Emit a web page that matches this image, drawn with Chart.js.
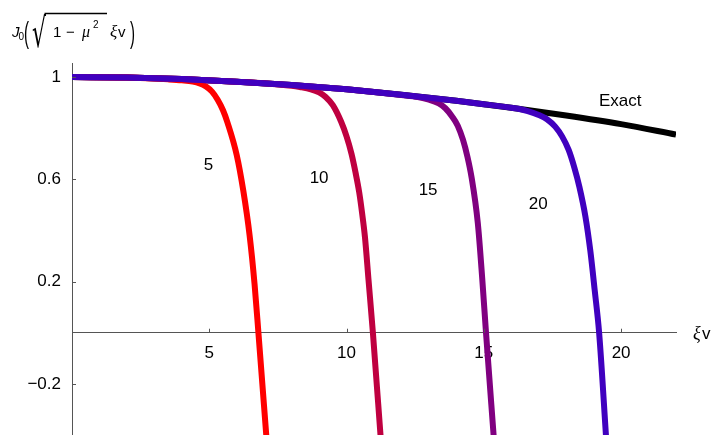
<!DOCTYPE html>
<html>
<head>
<meta charset="utf-8">
<script src="https://cdn.jsdelivr.net/npm/chart.js@4.4.1/dist/chart.umd.min.js"></script>
<style>
  html, body { margin: 0; padding: 0; background: #fff; }
  #wrap { width: 713px; height: 435px; }
</style>
</head>
<body>
<div id="wrap"><canvas id="c" width="713" height="435"></canvas></div>
<script>
// Exact Bessel curve J0(sqrt(1-mu^2) xi v)
const exactX = [0, 2, 4, 6, 8, 10, 12, 14, 16, 18, 20, 22];
const exactY = [1.000, 0.998, 0.992, 0.982, 0.969, 0.952, 0.931, 0.907, 0.880, 0.850, 0.816, 0.775];

// Truncated approximations with 5, 10, 15 and 20 terms
const n5X = [0, 1, 2, 3, 3.5, 4, 4.4, 4.65, 4.88, 5.1, 5.3, 5.5, 5.67, 6.0, 6.24, 6.47, 6.65, 6.79, 7.09];
const n5Y = [1.000, 0.9995, 0.998, 0.994, 0.991, 0.987, 0.982, 0.975, 0.963, 0.943, 0.912, 0.870, 0.820, 0.695, 0.555, 0.380, 0.190, 0.000, -0.420];

const n10X = [0, 2, 4, 6, 7, 8, 8.3, 8.7, 9.0, 9.24, 9.5, 9.8, 10.0, 10.18, 10.33, 10.46, 10.57, 10.67, 10.8, 10.96, 11.25];
const n10Y = [1.000, 0.998, 0.992, 0.982, 0.976, 0.966, 0.961, 0.952, 0.940, 0.922, 0.890, 0.826, 0.768, 0.700, 0.625, 0.550, 0.465, 0.375, 0.207, 0.000, -0.420];

const n15X = [0, 2, 4, 6, 8, 10, 11, 12, 12.6, 13.0, 13.36, 13.6, 13.85, 14.05, 14.24, 14.4, 14.55, 14.78, 14.94, 15.08, 15.37];
const n15Y = [1.000, 0.998, 0.992, 0.982, 0.969, 0.952, 0.942, 0.930, 0.922, 0.912, 0.897, 0.878, 0.845, 0.810, 0.755, 0.690, 0.610, 0.430, 0.215, 0.000, -0.420];

const n20X = [0, 2, 4, 6, 8, 10, 12, 14, 15, 16, 16.3, 16.6, 17.0, 17.3, 17.6, 17.85, 18.09, 18.3, 18.48, 18.7, 18.88, 19.04, 19.2, 19.46];
const n20Y = [1.000, 0.998, 0.992, 0.982, 0.969, 0.952, 0.931, 0.907, 0.894, 0.880, 0.875, 0.867, 0.852, 0.835, 0.806, 0.768, 0.715, 0.645, 0.571, 0.455, 0.320, 0.165, 0.000, -0.420];

// Axis ticks
const xTickValues = [5, 10, 15, 20];
const xTickLabels = ['5', '10', '15', '20'];
const yTickValues = [-0.2, 0.2, 0.6, 1];
const yTickLabels = ['\u22120.2', '0.2', '0.6', '1'];

// Curve annotations (text and data position)
const noteText = ['5', '10', '15', '20', 'Exact'];
const noteX = [4.97, 9.0, 12.97, 16.98, 19.97];
const noteY = [0.656, 0.604, 0.556, 0.504, 0.907];

const SANS = '"Liberation Sans", Arial, sans-serif';
const SERIF = '"Liberation Serif", "Times New Roman", serif';

const pts = (xs, ys) => xs.map((x, i) => ({ x: x, y: ys[i] }));

function line(label, xs, ys, color, order) {
  return {
    label: label,
    data: pts(xs, ys),
    borderColor: color,
    backgroundColor: color,
    borderWidth: 6,
    pointRadius: 0,
    fill: false,
    cubicInterpolationMode: 'monotone',
    borderCapStyle: 'butt',
    order: order
  };
}

// axes sit inside the plot, so they reserve no extra room
function noPadding(s) {
  s.paddingLeft = 0;
  s.paddingRight = 0;
  s.paddingTop = 0;
  s.paddingBottom = 0;
}

const decorations = {
  id: 'decorations',
  afterDraw(chart) {
    const ctx = chart.ctx;
    const xs = chart.scales.x, ys = chart.scales.y;
    const x0 = xs.getPixelForValue(0);
    const yZero = ys.getPixelForValue(0);
    ctx.save();
    // tick marks pointing into the plot
    ctx.strokeStyle = '#555';
    ctx.lineWidth = 1;
    ctx.beginPath();
    xTickValues.forEach(v => {
      const px = Math.round(xs.getPixelForValue(v)) + 0.5;
      ctx.moveTo(px, yZero);
      ctx.lineTo(px, yZero - 4);
    });
    yTickValues.forEach(v => {
      const py = Math.round(ys.getPixelForValue(v)) + 0.5;
      ctx.moveTo(x0, py);
      ctx.lineTo(x0 + 4, py);
    });
    ctx.stroke();

    // curve annotations
    ctx.fillStyle = '#000';
    ctx.font = '17px ' + SANS;
    ctx.textAlign = 'center';
    ctx.textBaseline = 'middle';
    noteText.forEach((t, i) => {
      ctx.fillText(t, xs.getPixelForValue(noteX[i]), ys.getPixelForValue(noteY[i]));
    });

    // x axis title
    ctx.textAlign = 'left';
    ctx.textBaseline = 'alphabetic';
    const tx = xs.right + 17;
    ctx.font = 'italic 18px ' + SERIF;
    ctx.fillText('\u03BE', tx, yZero + 6);
    ctx.font = '17px ' + SANS;
    ctx.fillText('v', tx + 9, yZero + 6);

    // y axis title: J0( sqrt(1 - mu^2) xi v )
    const base = 37;
    ctx.font = 'italic 15px ' + SANS;
    ctx.fillText('J', 12, base);
    ctx.font = '10px ' + SANS;
    ctx.fillText('0', 18.5, base + 3);
    // tall parentheses
    ctx.font = '15px ' + SANS;
    ctx.save();
    ctx.translate(24, base + 6);
    ctx.scale(1, 2.0);
    ctx.fillText('(', 0, 0);
    ctx.restore();
    ctx.save();
    ctx.translate(130, base + 6);
    ctx.scale(1, 2.0);
    ctx.fillText(')', 0, 0);
    ctx.restore();
    // radical sign with its bar
    ctx.save();
    ctx.font = '22px "DejaVu Sans", sans-serif';
    ctx.translate(32, base + 10);
    ctx.scale(1, 1.85);
    ctx.fillText('\u221A', 0, 0);
    const rw = ctx.measureText('\u221A').width;
    ctx.restore();
    ctx.strokeStyle = '#000';
    ctx.lineWidth = 1.3;
    ctx.beginPath();
    ctx.moveTo(32 + rw - 1.5, 13.5);
    ctx.lineTo(107, 13.5);
    ctx.stroke();
    ctx.font = '15px ' + SANS;
    ctx.fillText('1', 53, base);
    ctx.fillText('\u2212', 66, base);
    ctx.font = 'italic 16px ' + SERIF;
    ctx.fillText('\u03BC', 82, base);
    ctx.font = '10px ' + SANS;
    ctx.fillText('2', 93, base - 9);
    ctx.font = 'italic 17px ' + SERIF;
    ctx.fillText('\u03BE', 110, base);
    ctx.font = '15px ' + SANS;
    ctx.fillText('v', 118, base);
    ctx.restore();
  }
};

new Chart(document.getElementById('c'), {
  type: 'line',
  data: {
    datasets: [
      line('Exact', exactX, exactY, '#000000', 4),
      line('5', n5X, n5Y, '#ff0000', 3),
      line('10', n10X, n10Y, '#bf0040', 2),
      line('15', n15X, n15Y, '#800080', 1),
      line('20', n20X, n20Y, '#4000bf', 0)
    ]
  },
  options: {
    responsive: false,
    devicePixelRatio: 1,
    animation: false,
    layout: { padding: { top: 63, right: 37, bottom: 0, left: 0 } },
    plugins: { legend: { display: false }, tooltip: { enabled: false } },
    scales: {
      x: {
        type: 'linear',
        min: 0,
        max: 22,
        position: { y: 0 },
        afterFit: s => { s.height = 0; noPadding(s); },
        afterBuildTicks: s => { s.ticks = xTickValues.map(v => ({ value: v })); },
        ticks: {
          callback: (v, i) => xTickLabels[i],
          color: '#000',
          font: { family: SANS, size: 17 },
          padding: 10,
          maxRotation: 0
        },
        grid: { display: false, drawTicks: false },
        border: { display: true, color: '#555', width: 1 }
      },
      y: {
        type: 'linear',
        min: -0.4,
        max: 1.055,
        position: 'left',
        afterFit: s => { s.width = 72; noPadding(s); },
        afterBuildTicks: s => { s.ticks = yTickValues.map(v => ({ value: v })); },
        ticks: {
          callback: (v, i) => yTickLabels[i],
          color: '#000',
          font: { family: SANS, size: 17 },
          padding: 11
        },
        grid: { display: false, drawTicks: false },
        border: { display: true, color: '#555', width: 1 }
      }
    }
  },
  plugins: [decorations]
});
</script>
</body>
</html>
